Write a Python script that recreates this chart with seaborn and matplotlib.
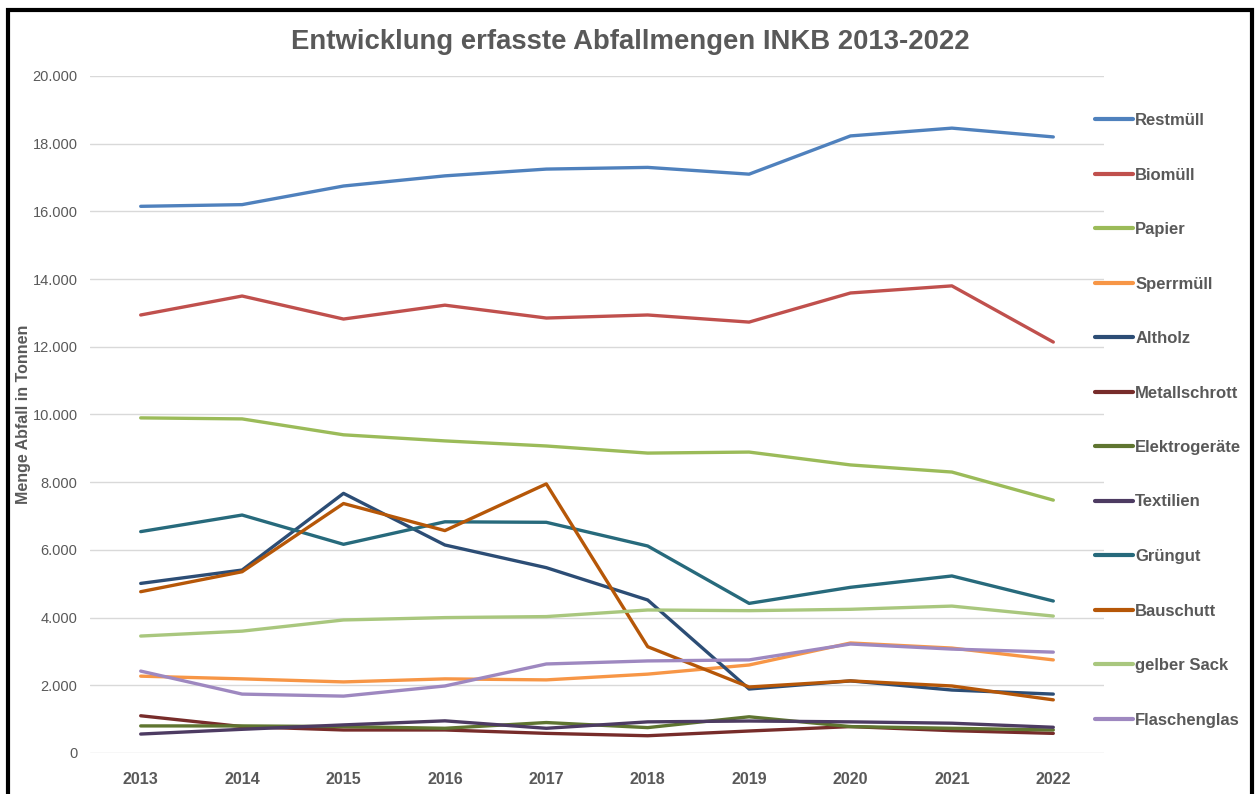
import matplotlib
matplotlib.use("Agg")
import matplotlib.pyplot as plt
import matplotlib.ticker as mticker
from matplotlib.patches import Rectangle
import pandas as pd
import seaborn as sns

# Data (tonnes per year)
years = [2013, 2014, 2015, 2016, 2017, 2018, 2019, 2020, 2021, 2022]
restmuell = [16150, 16200, 16750, 17050, 17250, 17300, 17100, 18230, 18460, 18200]
biomuell = [12940, 13500, 12820, 13230, 12850, 12940, 12730, 13590, 13800, 12140]
papier = [9900, 9870, 9400, 9220, 9070, 8860, 8890, 8510, 8300, 7470]
sperrmuell = [2270, 2190, 2100, 2190, 2160, 2330, 2600, 3250, 3100, 2750]
altholz = [5010, 5405, 7670, 6145, 5475, 4520, 1890, 2130, 1860, 1740]
metallschrott = [1100, 780, 680, 680, 580, 510, 650, 780, 660, 580]
elektrogeraete = [800, 800, 780, 730, 900, 750, 1070, 780, 730, 680]
textilien = [560, 700, 830, 950, 730, 920, 945, 920, 880, 760]
gruengut = [6540, 7030, 6165, 6830, 6815, 6115, 4420, 4895, 5230, 4490]
bauschutt = [4765, 5355, 7370, 6570, 7950, 3140, 1950, 2130, 1980, 1570]
gelber_sack = [3455, 3600, 3930, 4000, 4030, 4225, 4205, 4245, 4340, 4045]
flaschenglas = [2420, 1740, 1680, 1980, 2630, 2720, 2750, 3220, 3070, 2980]

series = {
    "Restmüll": restmuell,
    "Biomüll": biomuell,
    "Papier": papier,
    "Sperrmüll": sperrmuell,
    "Altholz": altholz,
    "Metallschrott": metallschrott,
    "Elektrogeräte": elektrogeraete,
    "Textilien": textilien,
    "Grüngut": gruengut,
    "Bauschutt": bauschutt,
    "gelber Sack": gelber_sack,
    "Flaschenglas": flaschenglas,
}
colors = ["#4F81BD", "#C0504D", "#9BBB59", "#F79646", "#2C4D75", "#772C2A",
          "#5F7530", "#4D3B62", "#276A7C", "#B65708", "#A9C77E", "#9E88C0"]

rows = []
for name, vals in series.items():
    for i, v in enumerate(vals):
        rows.append({"idx": i, "Jahr": str(years[i]), "Menge": v, "Art": name})
df = pd.DataFrame(rows)

sns.set_theme(style="white")
plt.rcParams["font.family"] = ["Liberation Sans", "DejaVu Sans"]
text_col = "#595959"

fig = plt.figure(figsize=(12.6, 7.94), dpi=100)
ax = fig.add_axes([90 / 1260, 41 / 794, 1014 / 1260, 677 / 794])

palette = dict(zip(series.keys(), colors))
sns.lineplot(data=df, x="idx", y="Menge", hue="Art", hue_order=list(series.keys()),
             palette=palette, linewidth=2.4, ax=ax, legend=True)

ax.set_xlim(-0.5, 9.5)
ax.set_ylim(0, 20000)
ax.set_xticks(range(len(years)))
ax.set_xticklabels([str(y) for y in years], fontweight="bold", fontsize=11.5, color=text_col)
ax.set_yticks(range(0, 20001, 2000))
ax.yaxis.set_major_formatter(mticker.FuncFormatter(lambda v, p: f"{int(v):,}".replace(",", ".")))
for lab in ax.get_yticklabels():
    lab.set_fontsize(10.5)
    lab.set_color(text_col)
ax.tick_params(axis="both", length=0)
ax.tick_params(axis="y", pad=9)
ax.tick_params(axis="x", pad=14)
ax.grid(axis="y", color="#D9D9D9", linewidth=1)
for s in ax.spines.values():
    s.set_visible(False)
ax.set_xlabel("")
ax.set_ylabel("Menge Abfall in Tonnen", fontweight="bold", fontsize=11.5, color=text_col)
ax.yaxis.set_label_coords(-0.058, 0.5)

handles, labels = ax.get_legend_handles_labels()
ax.legend_.remove()
leg = fig.legend(handles, labels, loc="upper left", bbox_to_anchor=(1080 / 1260, 1 - 98 / 794),
                 frameon=False, handlelength=2.3, handletextpad=0.12, labelspacing=2.37,
                 prop={"weight": "bold", "size": 12})
for t in leg.get_texts():
    t.set_color(text_col)
for h in leg.get_lines():
    h.set_linewidth(3)

fig.text(630 / 1260, 1 - 42 / 794, "Entwicklung erfasste Abfallmengen INKB 2013-2022",
         ha="center", va="center", fontsize=19.8, fontweight="bold", color=text_col)

# black frame around the chart
fig.patches.append(Rectangle((8 / 1260, -0.05), 1244 / 1260, 1.05 - 10 / 794, transform=fig.transFigure,
                             fill=False, edgecolor="black", linewidth=3))

fig.savefig("out.png", dpi=100)
